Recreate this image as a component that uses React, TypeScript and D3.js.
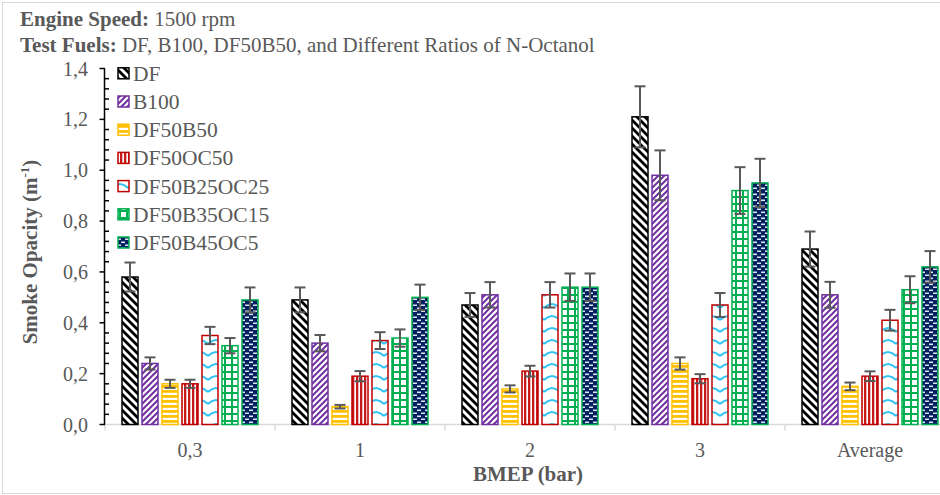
import React from "react";
import * as d3 from "d3";

const categories = ["0,3", "1", "2", "3", "Average"];
const seriesNames = ["DF", "B100", "DF50B50", "DF50OC50", "DF50B25OC25", "DF50B35OC15", "DF50B45OC5"];
const DF = [0.58, 0.49, 0.47, 1.21, 0.69];
const B100 = [0.24, 0.32, 0.51, 0.98, 0.51];
const DF50B50 = [0.16, 0.07, 0.14, 0.24, 0.15];
const DF50OC50 = [0.16, 0.19, 0.21, 0.18, 0.19];
const DF50B25OC25 = [0.35, 0.33, 0.51, 0.47, 0.41];
const DF50B35OC15 = [0.31, 0.34, 0.54, 0.92, 0.53];
const DF50B45OC5 = [0.49, 0.5, 0.54, 0.95, 0.62];
const errDF = [0.057, 0.049, 0.047, 0.12, 0.069];
const errB100 = [0.024, 0.032, 0.05, 0.098, 0.051];
const errDF50B50 = [0.016, 0.007, 0.014, 0.024, 0.015];
const errDF50OC50 = [0.016, 0.02, 0.021, 0.018, 0.019];
const errDF50B25OC25 = [0.034, 0.033, 0.05, 0.047, 0.041];
const errDF50B35OC15 = [0.03, 0.034, 0.054, 0.092, 0.053];
const errDF50B45OC5 = [0.049, 0.05, 0.054, 0.095, 0.062];
const yTicks = [0, 0.2, 0.4, 0.6, 0.8, 1.0, 1.2, 1.4];

const values = [DF, B100, DF50B50, DF50OC50, DF50B25OC25, DF50B35OC15, DF50B45OC5];
const errors = [errDF, errB100, errDF50B50, errDF50OC50, errDF50B25OC25, errDF50B35OC15, errDF50B45OC5];
const strokes = ["#000000", "#7030A0", "#FFC000", "#C00000", "#C00000", "#00B050", "#00B050"];

const W = 940;
const H = 495;
const FONT = "'Liberation Serif', 'Times New Roman', serif";
const TXT = "#595959";

const locale = d3.formatLocale({ decimal: ",", thousands: ".", grouping: [3], currency: ["", ""] });
const fmt = locale.format(".1f");

function Patterns() {
  return (
    <defs>
      <pattern id="p0" patternUnits="userSpaceOnUse" width="8" height="8">
        <rect width="8" height="8" fill="#fff" />
        <path d="M-2,-2 L10,10 M-2,6 L2,10 M6,-2 L10,2" stroke="#000" strokeWidth="2.8" />
      </pattern>
      <pattern id="p1" patternUnits="userSpaceOnUse" width="6" height="6">
        <rect width="6" height="6" fill="#fff" />
        <path d="M-1.5,7.5 L7.5,-1.5 M-1.5,1.5 L1.5,-1.5 M4.5,7.5 L7.5,4.5" stroke="#7030A0" strokeWidth="2" />
      </pattern>
      <pattern id="p2" patternUnits="userSpaceOnUse" width="5" height="5">
        <rect width="5" height="5" fill="#fff" />
        <rect y="0" width="5" height="2.8" fill="#FFC000" />
      </pattern>
      <pattern id="p3" patternUnits="userSpaceOnUse" width="4" height="4">
        <rect width="4" height="4" fill="#fff" />
        <rect x="0" width="2.3" height="4" fill="#C00000" opacity="0.9" />
      </pattern>
      <pattern id="p4" patternUnits="userSpaceOnUse" width="16" height="12">
        <rect width="16" height="12" fill="#fff" />
        <path d="M0,8 Q8,0 16,8" fill="none" stroke="#33C3F5" strokeWidth="2" />
      </pattern>
      <pattern id="p5" patternUnits="userSpaceOnUse" width="7" height="7">
        <rect width="7" height="7" fill="#fff" />
        <path d="M0,1 L7,1 M1,0 L1,7" stroke="#00B050" strokeWidth="2" />
      </pattern>
      <pattern id="p6" patternUnits="userSpaceOnUse" width="8" height="6">
        <rect width="8" height="6" fill="#002060" />
        <rect x="1" y="1.5" width="4" height="1.6" fill="#dfe3ef" />
        <rect x="5" y="4.5" width="4" height="1.6" fill="#dfe3ef" />
        <rect x="-3" y="4.5" width="4" height="1.6" fill="#dfe3ef" />
      </pattern>
    </defs>
  );
}

export default function App() {
  const x0 = d3.scaleBand<string>().domain(categories).range([105, 955]).paddingInner(0).paddingOuter(0);
  const x1 = d3
    .scaleBand<string>()
    .domain(seriesNames)
    .range([17, x0.bandwidth() - 17])
    .paddingInner(0.2)
    .paddingOuter(0);
  const y = d3.scaleLinear().domain([0, 1.4]).range([424.5, 68.5]);
  const minorTicks = d3.range(0, 1.4001, 0.04).filter((t) => Math.abs(t / 0.2 - Math.round(t / 0.2)) > 1e-6);
  const boundaries = categories.map((c) => x0(c) as number).concat([955]);

  return (
    <svg width={W} height={H} style={{ position: "absolute", left: 0, top: 0 }} fontFamily={FONT}>
      <Patterns />
      <rect x={0} y={0} width={W} height={H} fill="#fff" />
      <rect x={2.5} y={2.5} width={W + 10} height={H - 4} fill="none" stroke="#D9D9D9" strokeWidth={1} />

      {/* Titles */}
      <text x={20} y={26} fontSize={21} fill={TXT}>
        <tspan fontWeight="bold">Engine Speed:</tspan>
        <tspan> 1500 rpm</tspan>
      </text>
      <text x={20} y={52} fontSize={21} fill={TXT}>
        <tspan fontWeight="bold">Test Fuels:</tspan>
        <tspan> DF, B100, DF50B50, and Different Ratios of N-Octanol</tspan>
      </text>

      {/* x baseline and category ticks */}
      <line x1={105} x2={955} y1={y(0)} y2={y(0)} stroke="#D9D9D9" strokeWidth={1.5} />
      {boundaries.map((b, i) => (
        <line key={i} x1={b} x2={b} y1={y(0)} y2={y(0) + 6} stroke="#D9D9D9" strokeWidth={1.5} />
      ))}

      {/* Bars */}
      {seriesNames.map((s, si) => (
        <g key={s}>
          {categories.map((c, ci) => {
            const v = values[si][ci];
            const bx = (x0(c) as number) + (x1(s) as number);
            const bw = x1.bandwidth();
            return (
              <rect
                key={c}
                x={bx}
                y={y(v)}
                width={bw}
                height={y(0) - y(v)}
                fill={`url(#p${si})`}
                stroke={strokes[si]}
                strokeWidth={1.5}
              />
            );
          })}
        </g>
      ))}

      {/* Error bars */}
      {seriesNames.map((s, si) => (
        <g key={s + "e"} stroke="#595959" strokeWidth={2}>
          {categories.map((c, ci) => {
            const v = values[si][ci];
            const e = errors[si][ci];
            const cx = (x0(c) as number) + (x1(s) as number) + x1.bandwidth() / 2;
            return (
              <g key={c}>
                <line x1={cx} x2={cx} y1={y(v + e)} y2={y(v - e)} />
                <line x1={cx - 5.5} x2={cx + 5.5} y1={y(v + e)} y2={y(v + e)} />
                <line x1={cx - 5.5} x2={cx + 5.5} y1={y(v - e)} y2={y(v - e)} />
              </g>
            );
          })}
        </g>
      ))}

      {/* Y axis */}
      <line x1={104.5} x2={104.5} y1={y(1.4)} y2={y(0)} stroke="#000" strokeWidth={1.5} />
      {yTicks.map((t) => (
        <g key={t}>
          <line x1={99.5} x2={105} y1={y(t)} y2={y(t)} stroke="#000" strokeWidth={1.5} />
          <text x={88} y={y(t)} dy="0.35em" textAnchor="end" fontSize={20} fill={TXT}>
            {fmt(t)}
          </text>
        </g>
      ))}
      {minorTicks.map((t, i) => (
        <line key={i} x1={104.5} x2={109} y1={y(t)} y2={y(t)} stroke="#000" strokeWidth={1.5} />
      ))}

      {/* X labels */}
      {categories.map((c) => (
        <text
          key={c}
          x={(x0(c) as number) + x0.bandwidth() / 2}
          y={457}
          textAnchor="middle"
          fontSize={20}
          fill={TXT}
        >
          {c}
        </text>
      ))}

      {/* Axis titles */}
      <text x={528} y={481} textAnchor="middle" fontSize={21} fontWeight="bold" fill={TXT}>
        BMEP (bar)
      </text>
      <text
        transform={`translate(37, 252) rotate(-90)`}
        textAnchor="middle"
        fontSize={21}
        fontWeight="bold"
        fill={TXT}
      >
        Smoke Opacity (m
        <tspan dy={-8} fontSize={13}>
          -1
        </tspan>
        <tspan dy={8}>)</tspan>
      </text>

      {/* Legend */}
      {seriesNames.map((s, si) => {
        const cy = 73.3 + si * 28.2;
        return (
          <g key={s + "l"}>
            <rect x={118} y={cy - 5.5} width={11} height={11} fill={`url(#p${si})`} stroke={strokes[si]} strokeWidth={1.5} />
            <text x={133} y={cy} dy="0.35em" fontSize={21.5} fill={TXT}>
              {s}
            </text>
          </g>
        );
      })}
    </svg>
  );
}
